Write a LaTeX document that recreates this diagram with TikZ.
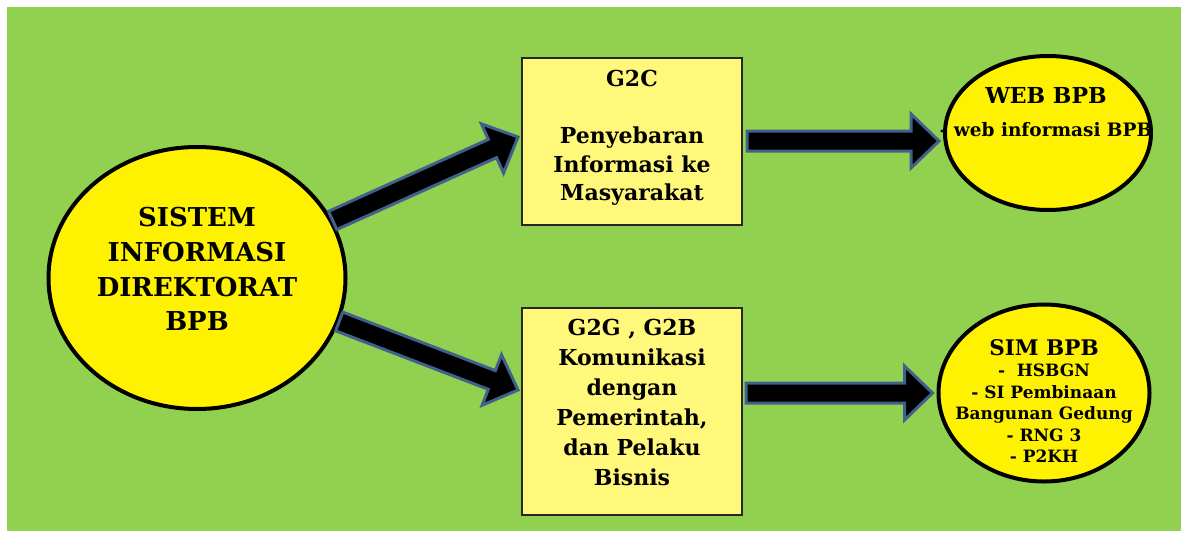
\documentclass[tikz,border=0pt]{standalone}
\usepackage{fontspec}
\setmainfont{DejaVu Serif}
\usetikzlibrary{calc,shapes.geometric}

\definecolor{bggreen}{RGB}{146,208,80}
\definecolor{boxyellow}{RGB}{255,248,122}
\definecolor{arrowblue}{RGB}{65,96,140}

\tikzset{
  oval/.style={ellipse, draw=black, line width=4pt, fill=yellow, inner sep=0pt},
  infobox/.style={rectangle, draw=black!85, line width=2pt, fill=boxyellow, inner sep=0pt},
  txt/.style={align=center, inner sep=0pt},
  barrow/.style={draw=arrowblue, line width=3pt, fill=black, line join=miter},
}

% block arrow between two named coordinates
\newcommand{\blockarrow}[2]{%
  \coordinate (neck) at ($(#2)!28pt!(#1)$);
  \draw[barrow] ($(#1)!10pt!90:(#2)$) -- ($(neck)!10pt!-90:(#1)$)
    -- ($(neck)!27pt!-90:(#1)$) -- (#2) -- ($(neck)!27pt!90:(#1)$)
    -- ($(neck)!10pt!90:(#1)$) -- ($(#1)!10pt!-90:(#2)$) -- cycle;
}

\begin{document}
\begin{tikzpicture}[x=1pt, y=-1pt]
\useasboundingbox (0,0) rectangle (1181,533);
\fill[bggreen] (7,7) rectangle (1181,531);

% shapes
\node[oval, minimum width=297pt, minimum height=262pt] (sys) at (197,278) {};
\node[infobox, minimum width=220pt, minimum height=167pt] (g2c) at (632,141) {};
\node[infobox, minimum width=220pt, minimum height=207pt] (g2g) at (632,411) {};
\node[oval, minimum width=206pt, minimum height=154pt] (web) at (1048,133) {};
\node[oval, minimum width=211pt, minimum height=177pt] (sim) at (1044,393) {};

% texts
\node[txt, font=\bfseries\fontsize{26}{34.7}\selectfont] (systxt) at ([yshift=9pt]sys.center)
  {SISTEM\\INFORMASI\\DIREKTORAT\\BPB};
\node[txt, font=\bfseries\fontsize{22}{28.5}\selectfont] (g2ctxt) at ([yshift=3pt]g2c.center)
  {G2C\\[28.5pt]Penyebaran\\Informasi ke\\Masyarakat};
\node[txt, font=\bfseries\fontsize{22}{30}\selectfont] (g2gtxt) at ([yshift=9pt]g2g.center)
  {G2G , G2B\\Komunikasi\\dengan\\Pemerintah,\\dan Pelaku\\Bisnis};
\node[txt, font=\bfseries\fontsize{18.5}{33}\selectfont] (webtxt) at ([yshift=21pt, xshift=-2pt]web.center)
  {{\fontsize{22}{26}\selectfont WEB BPB}\\- web informasi BPB};
\node[txt, font=\bfseries\fontsize{17}{21.5}\selectfont] (simtxt) at ([yshift=-8pt]sim.center)
  {{\fontsize{21.5}{26}\selectfont SIM BPB}\\-~ HSBGN\\- SI Pembinaan\\Bangunan Gedung\\- RNG 3\\- P2KH};

% connectors
\coordinate (tail1) at (sys.23);
\coordinate (tip1) at ([xshift=-3pt, yshift=4pt]g2c.west);
\coordinate (tail2) at (sys.-17);
\coordinate (tip2) at ([xshift=-3pt, yshift=21pt]g2g.west);
\coordinate (tail3) at ([xshift=4pt]g2c.east);
\coordinate (tip3) at ([xshift=-4pt]web.west |- g2c.east);
\coordinate (tail4) at ($(g2g.east |- sim.west)+(3,0)$);
\coordinate (tip4) at ([xshift=-4pt]sim.west);

\blockarrow{tail1}{tip1}
\blockarrow{tail2}{tip2}
\blockarrow{tail3}{tip3}
\blockarrow{tail4}{tip4}

\end{tikzpicture}
\end{document}
